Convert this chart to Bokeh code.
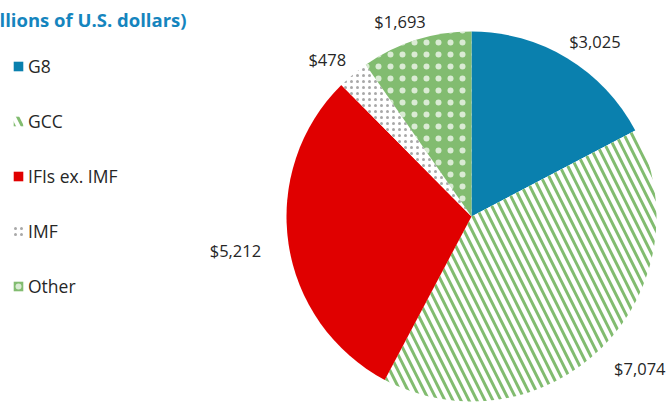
import math
from bokeh.plotting import figure
from bokeh.models import Legend, LegendItem, ColumnDataSource, Range1d, Label
from bokeh.embed import file_html
from bokeh.resources import INLINE
from bokeh.core.properties import value

# ---- data ----
categories = ["G8", "GCC", "IFIs ex. IMF", "IMF", "Other"]
amounts = [3025, 7074, 5212, 478, 1693]
title_text = "llions of U.S. dollars)"

# ---- styles ----
GREEN = "#82BC70"
fill_colors = ["#0A80AE", "#FFFFFF", "#E00000", "#FFFFFF", GREEN]
hatch_patterns = [" ", "\\", " ", "dot", "dot"]
hatch_colors = ["#0A80AE", GREEN, "#E00000", "#A8A8A8", "#FFFFFF"]
hatch_scales = [12, 16, 12, 6, 12]
hatch_weights = [1, 3, 1, 1, 1]
hatch_alphas = [1, 1, 1, 1, 0.7]

W, H = 672, 405
FONT = "Open Sans"

p = figure(width=W, height=H, x_range=Range1d(0, W), y_range=Range1d(0, H),
           output_backend="svg", toolbar_location=None, min_border=0)
p.axis.visible = False
p.grid.visible = False
p.outline_line_color = None

cx, cy, R = 471, H - 216, 185
total = float(sum(amounts))

starts, ends, mids = [], [], []
cum = 0.0
for a in amounts:
    s = cum / total * 2 * math.pi
    cum += a
    e = cum / total * 2 * math.pi
    # clockwise from 12 o'clock -> bokeh anticlock angles
    starts.append(math.pi / 2 - e)
    ends.append(math.pi / 2 - s)
    mids.append((s + e) / 2)

labels = ["${:,}".format(a) for a in amounts]
lx, ly = [], []
for m, t in zip(mids, labels):
    ux, uy = math.sin(m), math.cos(m)
    w = 8.8 * len(t)
    h = 20
    d = 14
    lx.append(cx + (R + d) * ux + w * 0.75 * ux)
    ly.append(cy + (R + d) * uy + h * 0.5 * uy - 4)

src = ColumnDataSource(dict(cat=categories, amt=amounts, start=starts, end=ends,
                            fill=fill_colors, hp=hatch_patterns, hc=hatch_colors,
                            hs=hatch_scales, hw=hatch_weights, ha=hatch_alphas))

r = p.wedge(x=cx, y=cy, radius=R, start_angle="start", end_angle="end",
            direction="anticlock", source=src, fill_color="fill", line_color=None,
            hatch_pattern="hp", hatch_color="hc", hatch_scale="hs", hatch_weight="hw",
            hatch_alpha="ha")

lsrc = ColumnDataSource(dict(x=lx, y=ly, text=labels))
p.text(x="x", y="y", text="text", source=lsrc, text_align="center",
       text_baseline="middle", text_font=value(FONT), text_font_size="16.5px",
       text_color="#262626")

items = [LegendItem(label=c, renderers=[r], index=i) for i, c in enumerate(categories)]
legend = Legend(items=items, location=(12, 107), orientation="vertical",
                glyph_width=12, glyph_height=12, label_height=22, spacing=31,
                padding=0, margin=0, border_line_color=None, background_fill_alpha=0,
                label_text_font=FONT, label_text_font_size="17.5px",
                label_text_color="#262626", label_standoff=4)
p.add_layout(legend)

p.add_layout(Label(x=-1, y=H - 19, x_units="screen", y_units="screen", text=title_text,
                   text_font=FONT, text_font_style="bold", text_font_size="18.5px",
                   text_color="#1585BE", text_baseline="alphabetic"))

open("out.html", "w").write(file_html(p, INLINE))
